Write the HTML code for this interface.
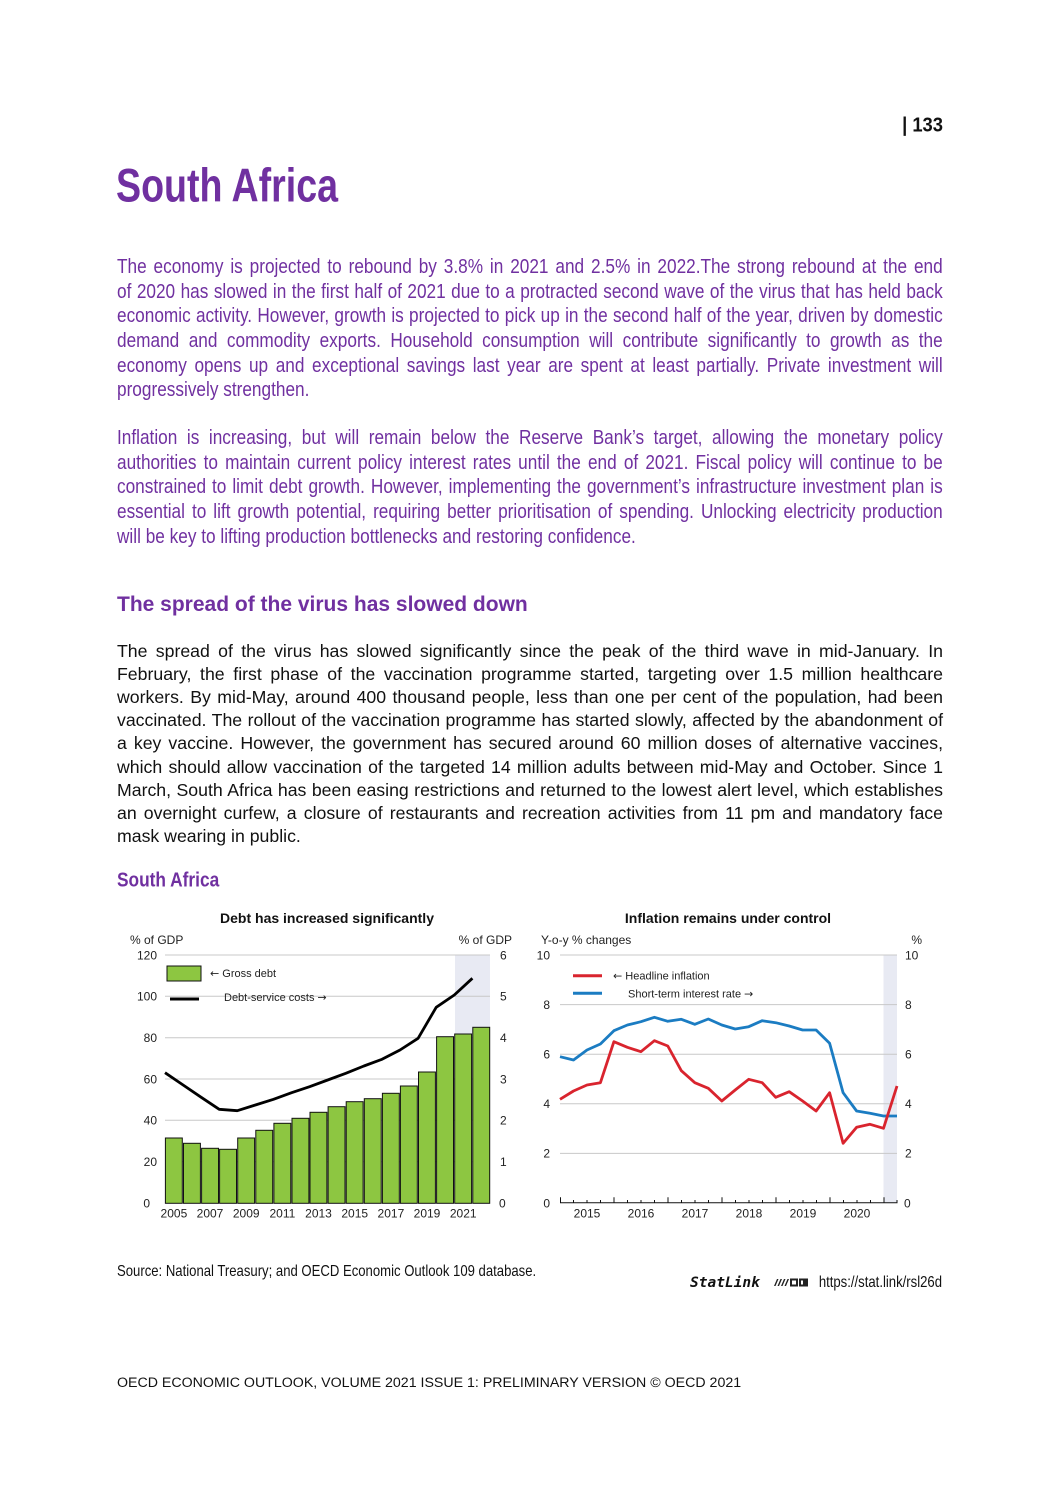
<!DOCTYPE html>
<html>
<head>
<meta charset="utf-8">
<style>
  html,body{margin:0;padding:0;background:#fff;}
  #page{position:relative;width:1059px;height:1497px;background:#fff;overflow:hidden;font-family:"Liberation Sans",Arial,sans-serif;}
  .pl{position:absolute;left:117px;width:983px;height:24px;line-height:24px;font-size:20.5px;color:#7030a0;text-align:justify;text-align-last:justify;transform:scaleX(0.84);transform-origin:0 0;}
  .pl.last{text-align-last:left;}
  .bl{position:absolute;left:117px;width:826px;height:23px;line-height:23px;font-size:17.7px;color:#111;text-align:justify;text-align-last:justify;}
  .bl.last{text-align-last:left;}
  svg{position:absolute;left:0;top:0;}
  svg text{font-family:"Liberation Sans",Arial,sans-serif;}
  svg .ar{font-family:"DejaVu Sans",sans-serif;}
</style>
</head>
<body>
<div id="page">

<!-- Purple paragraph 1 -->
<div class="pl" style="top:254.9px">The economy is projected to rebound by 3.8% in 2021 and 2.5% in 2022.The strong rebound at the end</div>
<div class="pl" style="top:279.6px">of 2020 has slowed in the first half of 2021 due to a protracted second wave of the virus that has held back</div>
<div class="pl" style="top:304.3px">economic activity. However, growth is projected to pick up in the second half of the year, driven by domestic</div>
<div class="pl" style="top:329px">demand and commodity exports. Household consumption will contribute significantly to growth as the</div>
<div class="pl" style="top:353.7px">economy opens up and exceptional savings last year are spent at least partially. Private investment will</div>
<div class="pl last" style="top:378.4px">progressively strengthen.</div>

<!-- Purple paragraph 2 -->
<div class="pl" style="top:425.9px">Inflation is increasing, but will remain below the Reserve Bank’s target, allowing the monetary policy</div>
<div class="pl" style="top:450.6px">authorities to maintain current policy interest rates until the end of 2021. Fiscal policy will continue to be</div>
<div class="pl" style="top:475.3px">constrained to limit debt growth. However, implementing the government’s infrastructure investment plan is</div>
<div class="pl" style="top:500px">essential to lift growth potential, requiring better prioritisation of spending. Unlocking electricity production</div>
<div class="pl last" style="top:524.7px">will be key to lifting production bottlenecks and restoring confidence.</div>

<!-- Black paragraph -->
<div class="bl" style="top:640.1px">The spread of the virus has slowed significantly since the peak of the third wave in mid-January. In</div>
<div class="bl" style="top:663.2px">February, the first phase of the vaccination programme started, targeting over 1.5 million healthcare</div>
<div class="bl" style="top:686.2px">workers. By mid-May, around 400 thousand people, less than one per cent of the population, had been</div>
<div class="bl" style="top:709.3px">vaccinated. The rollout of the vaccination programme has started slowly, affected by the abandonment of</div>
<div class="bl" style="top:732.4px">a key vaccine. However, the government has secured around 60 million doses of alternative vaccines,</div>
<div class="bl" style="top:755.5px">which should allow vaccination of the targeted 14 million adults between mid-May and October. Since 1</div>
<div class="bl" style="top:778.6px">March, South Africa has been easing restrictions and returned to the lowest alert level, which establishes</div>
<div class="bl" style="top:801.7px">an overnight curfew, a closure of restaurants and recreation activities from 11 pm and mandatory face</div>
<div class="bl last" style="top:824.7px">mask wearing in public.</div>

<svg width="1059" height="1497" viewBox="0 0 1059 1497">
  <!-- Page number -->
  <text transform="translate(943,131.7) scale(0.92,1)" x="0" y="0" text-anchor="end" font-size="20" font-weight="bold" fill="#111">| 133</text>

  <!-- Title -->
  <text transform="translate(116,201.5) scale(0.8,1)" x="0" y="0" font-size="47" font-weight="bold" fill="#7030a0">South Africa</text>

  <!-- Section heading -->
  <text x="117" y="611" font-size="21" font-weight="bold" fill="#7030a0">The spread of the virus has slowed down</text>

  <!-- Subheading -->
  <text transform="translate(117,886.7) scale(0.866,1)" x="0" y="0" font-size="20" font-weight="bold" fill="#7030a0">South Africa</text>

  <!-- ================= LEFT CHART ================= -->
  <text x="327" y="923" font-size="14" font-weight="bold" text-anchor="middle" fill="#111">Debt has increased significantly</text>
  <text x="130" y="944" font-size="12" fill="#222">% of GDP</text>
  <text x="512" y="944" font-size="12" text-anchor="end" fill="#222">% of GDP</text>

  <rect x="455" y="955" width="35" height="248" fill="#e8eaf3"/>
  <g stroke="#c8c8c8" stroke-width="1">
    <line x1="165" y1="955" x2="490" y2="955"/>
    <line x1="165" y1="996.3" x2="490" y2="996.3"/>
    <line x1="165" y1="1037.7" x2="490" y2="1037.7"/>
    <line x1="165" y1="1079" x2="490" y2="1079"/>
    <line x1="165" y1="1120.3" x2="490" y2="1120.3"/>
    <line x1="165" y1="1161.7" x2="490" y2="1161.7"/>
  </g>
  <g font-size="12" fill="#222" text-anchor="end">
    <text x="157" y="959.3">120</text>
    <text x="157" y="1000.6">100</text>
    <text x="157" y="1042">80</text>
    <text x="157" y="1083.3">60</text>
    <text x="157" y="1124.6">40</text>
    <text x="157" y="1166">20</text>
    <text x="150" y="1207.6">0</text>
  </g>
  <g font-size="12" fill="#222">
    <text x="500" y="959.3">6</text>
    <text x="500" y="1000.6">5</text>
    <text x="500" y="1042">4</text>
    <text x="500" y="1083.3">3</text>
    <text x="500" y="1124.6">2</text>
    <text x="500" y="1166">1</text>
    <text x="499" y="1207.6">0</text>
  </g>
  <g fill="#8dc641" stroke="#111" stroke-width="1">
    <rect x="165.4" y="1138" width="16.9" height="65.3"/>
    <rect x="183.5" y="1143.3" width="16.9" height="60"/>
    <rect x="201.6" y="1148.3" width="16.9" height="55"/>
    <rect x="219.6" y="1149.3" width="16.9" height="54"/>
    <rect x="237.7" y="1138" width="16.9" height="65.3"/>
    <rect x="255.8" y="1130.3" width="16.9" height="73"/>
    <rect x="273.9" y="1123.3" width="16.9" height="80"/>
    <rect x="292" y="1118.3" width="16.9" height="85"/>
    <rect x="310" y="1112.3" width="16.9" height="91"/>
    <rect x="328.1" y="1106.7" width="16.9" height="96.6"/>
    <rect x="346.2" y="1101.7" width="16.9" height="101.6"/>
    <rect x="364.3" y="1098.7" width="16.9" height="104.6"/>
    <rect x="382.4" y="1093.3" width="16.9" height="110"/>
    <rect x="400.4" y="1086" width="16.9" height="117.3"/>
    <rect x="418.5" y="1072" width="16.9" height="131.3"/>
    <rect x="436.6" y="1036.7" width="16.9" height="166.6"/>
    <rect x="454.7" y="1034" width="16.9" height="169.3"/>
    <rect x="472.8" y="1027.3" width="16.9" height="176"/>
  </g>
  <polyline fill="none" stroke="#000" stroke-width="2.8" stroke-linejoin="round"
    points="165,1072.7 183.1,1085 201.2,1097.3 219.2,1109.3 237.3,1110.7 255.4,1105 273.5,1099.3 291.6,1092.7 309.6,1086.7 327.7,1080 345.8,1073.3 363.9,1066 382,1059.3 400,1050 418.1,1038.3 436.2,1007.3 454.3,995 472.4,978.3"/>
  <g font-size="12" fill="#222" text-anchor="middle">
    <text x="173.9" y="1217.5">2005</text>
    <text x="210" y="1217.5">2007</text>
    <text x="246.2" y="1217.5">2009</text>
    <text x="282.4" y="1217.5">2011</text>
    <text x="318.5" y="1217.5">2013</text>
    <text x="354.7" y="1217.5">2015</text>
    <text x="390.9" y="1217.5">2017</text>
    <text x="427" y="1217.5">2019</text>
    <text x="463.2" y="1217.5">2021</text>
  </g>
  <rect x="167" y="966" width="34" height="15" fill="#8dc641" stroke="#111" stroke-width="1"/>
  <text x="210" y="977" font-size="11" fill="#222"><tspan class="ar">←</tspan> Gross debt</text>
  <line x1="170" y1="999" x2="199" y2="999" stroke="#000" stroke-width="3"/>
  <text x="224" y="1001" font-size="11" fill="#222">Debt-service costs <tspan class="ar">→</tspan></text>

  <!-- ================= RIGHT CHART ================= -->
  <text x="728" y="923" font-size="14" font-weight="bold" text-anchor="middle" fill="#111">Inflation remains under control</text>
  <text x="541" y="944" font-size="12" fill="#222">Y-o-y % changes</text>
  <text x="922" y="944" font-size="12" text-anchor="end" fill="#222">%</text>

  <rect x="883.5" y="955" width="13.5" height="248" fill="#e8eaf3"/>
  <g stroke="#c8c8c8" stroke-width="1">
    <line x1="560" y1="955" x2="897" y2="955"/>
    <line x1="560" y1="1004.6" x2="897" y2="1004.6"/>
    <line x1="560" y1="1054.2" x2="897" y2="1054.2"/>
    <line x1="560" y1="1103.8" x2="897" y2="1103.8"/>
    <line x1="560" y1="1153.4" x2="897" y2="1153.4"/>
  </g>
  <g font-size="12" fill="#222" text-anchor="end">
    <text x="550" y="959.3">10</text>
    <text x="550" y="1008.9">8</text>
    <text x="550" y="1058.5">6</text>
    <text x="550" y="1108.1">4</text>
    <text x="550" y="1157.7">2</text>
    <text x="550" y="1207.3">0</text>
  </g>
  <g font-size="12" fill="#222">
    <text x="905" y="959.3">10</text>
    <text x="905" y="1008.9">8</text>
    <text x="905" y="1058.5">6</text>
    <text x="905" y="1108.1">4</text>
    <text x="905" y="1157.7">2</text>
    <text x="904" y="1207.3">0</text>
  </g>
  <g stroke="#111" stroke-width="1">
    <line x1="560" y1="1202.7" x2="897.5" y2="1202.7"/>
    <line x1="560.5" y1="1197.3" x2="560.5" y2="1203"/>
    <line x1="614" y1="1197.3" x2="614" y2="1203"/>
    <line x1="668" y1="1197.3" x2="668" y2="1203"/>
    <line x1="722" y1="1197.3" x2="722" y2="1203"/>
    <line x1="776" y1="1197.3" x2="776" y2="1203"/>
    <line x1="830" y1="1197.3" x2="830" y2="1203"/>
    <line x1="884" y1="1197.3" x2="884" y2="1203"/>
    <line x1="573.5" y1="1200" x2="573.5" y2="1203"/>
    <line x1="587" y1="1200" x2="587" y2="1203"/>
    <line x1="600.5" y1="1200" x2="600.5" y2="1203"/>
    <line x1="627.5" y1="1200" x2="627.5" y2="1203"/>
    <line x1="641" y1="1200" x2="641" y2="1203"/>
    <line x1="654.5" y1="1200" x2="654.5" y2="1203"/>
    <line x1="681.5" y1="1200" x2="681.5" y2="1203"/>
    <line x1="695" y1="1200" x2="695" y2="1203"/>
    <line x1="708.5" y1="1200" x2="708.5" y2="1203"/>
    <line x1="735.5" y1="1200" x2="735.5" y2="1203"/>
    <line x1="749" y1="1200" x2="749" y2="1203"/>
    <line x1="762.5" y1="1200" x2="762.5" y2="1203"/>
    <line x1="789.5" y1="1200" x2="789.5" y2="1203"/>
    <line x1="803" y1="1200" x2="803" y2="1203"/>
    <line x1="816.5" y1="1200" x2="816.5" y2="1203"/>
    <line x1="843.5" y1="1200" x2="843.5" y2="1203"/>
    <line x1="857" y1="1200" x2="857" y2="1203"/>
    <line x1="870.5" y1="1200" x2="870.5" y2="1203"/>
    <line x1="897" y1="1200" x2="897" y2="1203"/>
  </g>
  <g font-size="12" fill="#222" text-anchor="middle">
    <text x="587" y="1217.5">2015</text>
    <text x="641" y="1217.5">2016</text>
    <text x="695" y="1217.5">2017</text>
    <text x="749" y="1217.5">2018</text>
    <text x="803" y="1217.5">2019</text>
    <text x="857" y="1217.5">2020</text>
  </g>
  <polyline fill="none" stroke="#1b7cc2" stroke-width="2.8" stroke-linejoin="round"
    points="560,1056.7 573.5,1060 587,1050 600.4,1044 613.9,1030.7 627.4,1025 640.9,1021.7 654.4,1017.3 667.8,1021.3 681.3,1019.3 694.8,1024.3 708.3,1019 721.8,1025 735.2,1029 748.7,1026.7 762.2,1020.7 775.7,1022.7 789.2,1026 802.6,1030 816.1,1030 829.6,1043.3 843.1,1092.7 856.6,1111 870,1113.3 883.5,1116 897,1116"/>
  <polyline fill="none" stroke="#d9242e" stroke-width="2.8" stroke-linejoin="round"
    points="560,1099.3 573.5,1091 587,1085 600.4,1082.7 613.9,1041.7 627.4,1047.3 640.9,1051.7 654.4,1040.7 667.8,1046 681.3,1070.7 694.8,1082.7 708.3,1088.3 721.8,1101 735.2,1090 748.7,1079.3 762.2,1082.7 775.7,1097.3 789.2,1091.7 802.6,1101 816.1,1111 829.6,1092.7 843.1,1143.3 856.6,1127.3 870,1124.3 883.5,1128.3 897,1086"/>
  <line x1="573" y1="975.7" x2="602" y2="975.7" stroke="#d9242e" stroke-width="3"/>
  <text x="613" y="979.5" font-size="11" fill="#222"><tspan class="ar">←</tspan> Headline inflation</text>
  <line x1="573" y1="993.3" x2="602" y2="993.3" stroke="#1b7cc2" stroke-width="3"/>
  <text x="628" y="997.3" font-size="11" fill="#222">Short-term interest rate <tspan class="ar">→</tspan></text>

  <!-- Source -->
  <text transform="translate(117,1276) scale(0.82,1)" x="0" y="0" font-size="16" fill="#111">Source: National Treasury; and OECD Economic Outlook 109 database.</text>

  <!-- StatLink -->
  <text x="690" y="1287" font-size="14.5" font-style="italic" font-weight="bold" fill="#111" style="font-family:'DejaVu Sans Mono',monospace">StatLink</text>
  <g fill="#222">
    <polygon points="774,1286 777,1279 778.5,1279 775.5,1286"/>
    <polygon points="777.5,1286 780.5,1279 782,1279 779,1286"/>
    <polygon points="781,1286 784,1279 785.5,1279 782.5,1286"/>
    <polygon points="784.5,1286 787.5,1279 789,1279 786,1286"/>
    <rect x="790" y="1278.5" width="8" height="8"/>
    <rect x="799" y="1278.5" width="9" height="8"/>
    <rect x="792" y="1280.5" width="4" height="4" fill="#fff"/>
    <rect x="801" y="1280.5" width="2" height="4" fill="#fff"/>
  </g>
  <text transform="translate(942,1287) scale(0.82,1)" x="0" y="0" text-anchor="end" font-size="16" fill="#111">https://stat.link/rsl26d</text>

  <!-- Footer -->
  <text x="117" y="1387" font-size="14.2" fill="#111">OECD ECONOMIC OUTLOOK, VOLUME 2021 ISSUE 1: PRELIMINARY VERSION © OECD 2021</text>
</svg>
</div>
</body>
</html>
